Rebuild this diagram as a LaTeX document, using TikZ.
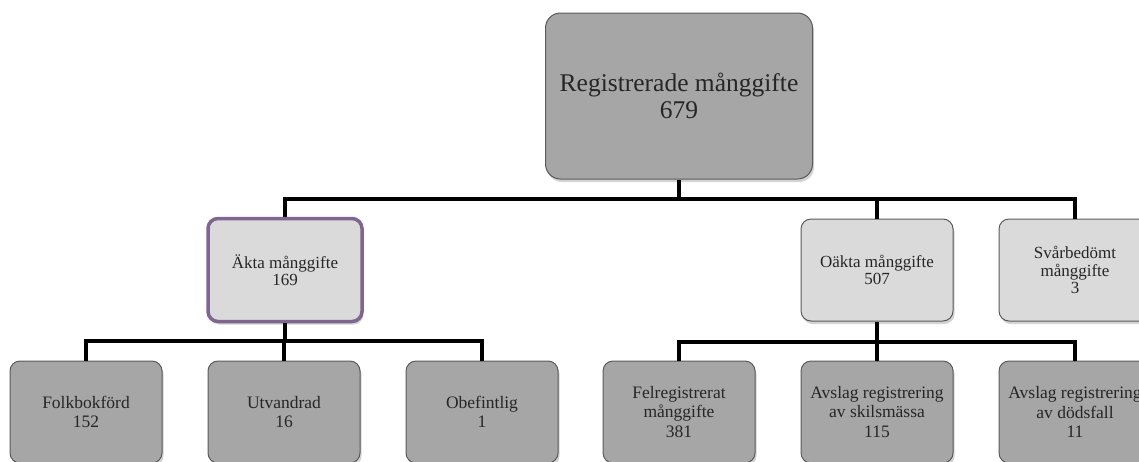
\documentclass[tikz,border=0pt]{standalone}
\usepackage{fontspec}
\setmainfont{Liberation Serif}
\usetikzlibrary{shadows}
\definecolor{boxdark}{HTML}{A6A6A6}
\definecolor{boxlight}{HTML}{DADADA}
\definecolor{boxline}{HTML}{5A5A5A}
\definecolor{aktaline}{HTML}{80658F}
\begin{document}
\begin{tikzpicture}[x=1pt,y=-1pt,
        box/.style={draw=boxline,line width=1pt,rounded corners=10pt,align=center,text=black!85,inner sep=0pt,
            minimum width=152pt,minimum height=102pt,font=\fontsize{17}{17.5}\selectfont,
            drop shadow={shadow xshift=1.5pt,shadow yshift=-3pt,opacity=0.35}},
        dark/.style={box,fill=boxdark,font=\fontsize{17.5}{19.5}\selectfont},
        light/.style={box,fill=boxlight},
        link/.style={line width=4pt}]
        \useasboundingbox (0,0) rectangle (1139,461);
        \clip (0,0) rectangle (1139,461);
        % top
        \node[dark,minimum width=267pt,minimum height=166pt,rounded corners=15pt,font=\fontsize{25.5}{27}\selectfont] (reg) at (679,96) {Registrerade månggifte\\679};
        % second row
        \node[light,draw=aktaline,line width=3.5pt,minimum width=154pt,minimum height=103pt] (akta) at (285,270) {Äkta månggifte\\169};
        \node[light] (oakta) at (877,270) {Oäkta månggifte\\507};
        \node[light] (svar) at (1075,270) {Svårbedömt\\månggifte\\3};
        % third row
        \node[dark] (folk) at (86,412) {Folkbokförd\\152};
        \node[dark] (utv) at (284,412) {Utvandrad\\16};
        \node[dark] (obef) at (482,412) {Obefintlig\\1};
        \node[dark] (fel) at (679,412) {Felregistrerat\\månggifte\\381};
        \node[dark] (skils) at (877,412) {Avslag registrering\\av skilsmässa\\115};
        \node[dark] (dod) at (1075,412) {Avslag registrering\\av dödsfall\\11};
        % connectors
        \coordinate (j1) at (679,199);
        \coordinate (j2) at (285,341);
        \coordinate (j3) at (877,342);
        \draw[link] (reg.south) -- (j1);
        \draw[link] (akta.north) |- (j1) -| (svar.north);
        \draw[link] (oakta.north) -- (oakta.north |- j1);
        \draw[link] (akta.south) -- (j2);
        \draw[link] (folk.north) |- (j2) -| (obef.north);
        \draw[link] (utv.north) -- (utv.north |- j2);
        \draw[link] (oakta.south) -- (j3);
        \draw[link] (fel.north) |- (j3) -| (dod.north);
        \draw[link] (skils.north) -- (skils.north |- j3);
\end{tikzpicture}
\end{document}
